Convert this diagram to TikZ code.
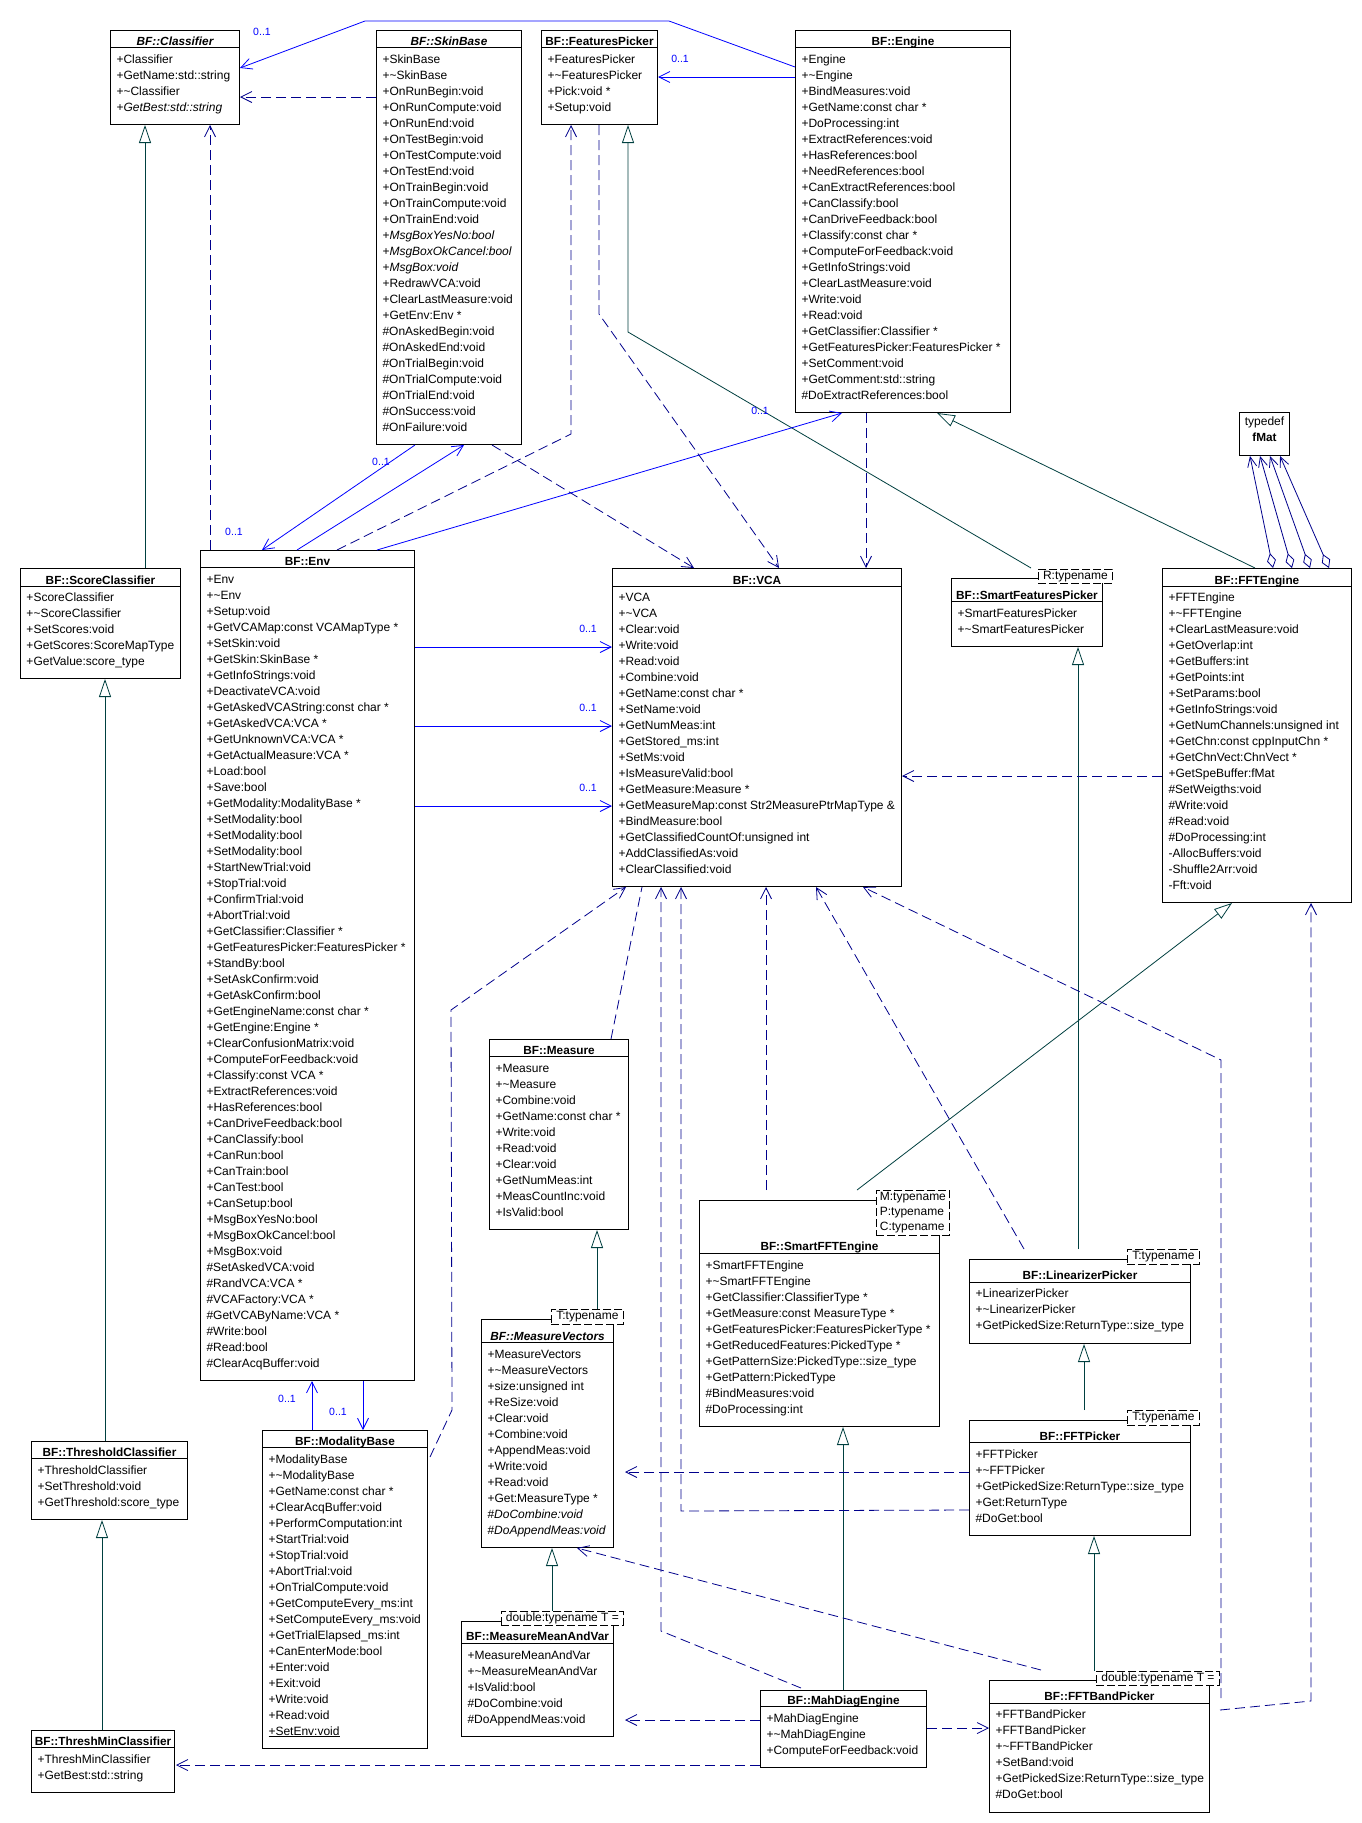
\documentclass[tikz,border=0pt]{standalone}
\usepackage{fontspec}
\setmainfont{Liberation Sans}
\usetikzlibrary{arrows.meta,calc}
\definecolor{assoccol}{RGB}{0,0,255}
\definecolor{depcol}{RGB}{0,0,140}
\definecolor{gencol}{RGB}{0,64,64}
\newcommand\itemfont{\fontsize{12}{16}\selectfont}
\newcommand\titlefont{\fontsize{11.8}{14}\selectfont\bfseries}
\newcommand\multfont{\fontsize{10.5}{12}\selectfont}
\begin{document}
\begin{tikzpicture}[x=1pt, y=-1pt, line width=1pt,
  cbox/.style={draw, fill=white, anchor=north west, inner sep=0pt},
  ctitle/.style={anchor=base, inner sep=0pt, font=\titlefont},
  ititle/.style={anchor=base, inner sep=0pt, font=\titlefont\itshape},
  citem/.style={anchor=base west, inner sep=0pt, font=\itemfont},
  tparam/.style={draw, fill=white, line width=0.8pt, dash pattern=on 8pt off 3pt, anchor=north west, inner sep=0pt, align=left, font=\fontsize{12}{15}\selectfont},
  mult/.style={text=assoccol, inner sep=0pt, font=\multfont},
  assoc/.style={draw=assoccol, line width=0.8pt, -{Straight Barb[length=11pt,width=11pt]}},
  dep/.style={draw=depcol, line width=0.8pt, dash pattern=on 10pt off 5pt, -{Straight Barb[length=11pt,width=11pt]}},
  gen/.style={draw=gencol, line width=0.8pt, -{Triangle[open,fill=white,length=18pt,width=12pt]}},
  aggr/.style={draw=depcol, line width=0.8pt, {Diamond[open,fill=white,length=15pt,width=9pt]}-{Straight Barb[length=10pt,width=9pt]}}]

  \fill[white] (0,0) rectangle (1362,1823);
  \useasboundingbox (0,0) rectangle (1362,1823);

  % classes
  \node[cbox, minimum width=129pt, minimum height=94pt] (cls) at (110,30) {};
  \draw ($(cls.north west)+(0,17)$) -- ($(cls.north east)+(0,17)$);
  \node[ititle] at ($(cls.north)+(0,15)$) {BF::Classifier};
  \foreach \m [count=\i from 0] in {+Classifier, +GetName:std::string, +\textasciitilde Classifier, +\textit{GetBest:std::string}}
    \node[citem] at ($(cls.north west)+(6,33+16*\i)$) {\m};

  \node[cbox, minimum width=145pt, minimum height=414pt] (skin) at (376,30) {};
  \draw ($(skin.north west)+(0,17)$) -- ($(skin.north east)+(0,17)$);
  \node[ititle] at ($(skin.north)+(0,15)$) {BF::SkinBase};
  \foreach \m [count=\i from 0] in {+SkinBase, +\textasciitilde SkinBase, +OnRunBegin:void, +OnRunCompute:void, +OnRunEnd:void, +OnTestBegin:void, +OnTestCompute:void, +OnTestEnd:void, +OnTrainBegin:void, +OnTrainCompute:void, +OnTrainEnd:void, +\textit{MsgBoxYesNo:bool}, +\textit{MsgBoxOkCancel:bool}, +\textit{MsgBox:void}, +RedrawVCA:void, +ClearLastMeasure:void, +GetEnv:Env *, \#OnAskedBegin:void, \#OnAskedEnd:void, \#OnTrialBegin:void, \#OnTrialCompute:void, \#OnTrialEnd:void, \#OnSuccess:void, \#OnFailure:void}
    \node[citem] at ($(skin.north west)+(6,33+16*\i)$) {\m};

  \node[cbox, minimum width=116pt, minimum height=94pt] (fpick) at (541,30) {};
  \draw ($(fpick.north west)+(0,17)$) -- ($(fpick.north east)+(0,17)$);
  \node[ctitle] at ($(fpick.north)+(0,15)$) {BF::FeaturesPicker};
  \foreach \m [count=\i from 0] in {+FeaturesPicker, +\textasciitilde FeaturesPicker, +Pick:void *, +Setup:void}
    \node[citem] at ($(fpick.north west)+(6,33+16*\i)$) {\m};

  \node[cbox, minimum width=215pt, minimum height=382pt] (eng) at (795,30) {};
  \draw ($(eng.north west)+(0,17)$) -- ($(eng.north east)+(0,17)$);
  \node[ctitle] at ($(eng.north)+(0,15)$) {BF::Engine};
  \foreach \m [count=\i from 0] in {+Engine, +\textasciitilde Engine, +BindMeasures:void, +GetName:const char *, +DoProcessing:int, +ExtractReferences:void, +HasReferences:bool, +NeedReferences:bool, +CanExtractReferences:bool, +CanClassify:bool, +CanDriveFeedback:bool, +Classify:const char *, +ComputeForFeedback:void, +GetInfoStrings:void, +ClearLastMeasure:void, +Write:void, +Read:void, +GetClassifier:Classifier *, +GetFeaturesPicker:FeaturesPicker *, +SetComment:void, +GetComment:std::string, \#DoExtractReferences:bool}
    \node[citem] at ($(eng.north west)+(6,33+16*\i)$) {\m};

  \node[cbox, minimum width=50pt, minimum height=43pt] (fmat) at (1239,412) {};
  \node[citem, anchor=base] (fmatkw) at ($(fmat.north)+(0,13)$) {typedef};
  \node[ctitle] (fmatname) at ($(fmat.north)+(0,29)$) {fMat};

  \node[cbox, minimum width=160pt, minimum height=110pt] (score) at (20,568) {};
  \draw ($(score.north west)+(0,18)$) -- ($(score.north east)+(0,18)$);
  \node[ctitle] at ($(score.north)+(0,16)$) {BF::ScoreClassifier};
  \foreach \m [count=\i from 0] in {+ScoreClassifier, +\textasciitilde ScoreClassifier, +SetScores:void, +GetScores:ScoreMapType, +GetValue:score\_type}
    \node[citem] at ($(score.north west)+(6,33+16*\i)$) {\m};

  \node[cbox, minimum width=214pt, minimum height=830pt] (env) at (200,550) {};
  \draw ($(env.north west)+(0,17)$) -- ($(env.north east)+(0,17)$);
  \node[ctitle] at ($(env.north)+(0,15)$) {BF::Env};
  \foreach \m [count=\i from 0] in {+Env, +\textasciitilde Env, +Setup:void, +GetVCAMap:const VCAMapType *, +SetSkin:void, +GetSkin:SkinBase *, +GetInfoStrings:void, +DeactivateVCA:void, +GetAskedVCAString:const char *, +GetAskedVCA:VCA *, +GetUnknownVCA:VCA *, +GetActualMeasure:VCA *, +Load:bool, +Save:bool, +GetModality:ModalityBase *, +SetModality:bool, +SetModality:bool, +SetModality:bool, +StartNewTrial:void, +StopTrial:void, +ConfirmTrial:void, +AbortTrial:void, +GetClassifier:Classifier *, +GetFeaturesPicker:FeaturesPicker *, +StandBy:bool, +SetAskConfirm:void, +GetAskConfirm:bool, +GetEngineName:const char *, +GetEngine:Engine *, +ClearConfusionMatrix:void, +ComputeForFeedback:void, +Classify:const VCA *, +ExtractReferences:void, +HasReferences:bool, +CanDriveFeedback:bool, +CanClassify:bool, +CanRun:bool, +CanTrain:bool, +CanTest:bool, +CanSetup:bool, +MsgBoxYesNo:bool, +MsgBoxOkCancel:bool, +MsgBox:void, \#SetAskedVCA:void, \#RandVCA:VCA *, \#VCAFactory:VCA *, \#GetVCAByName:VCA *, \#Write:bool, \#Read:bool, \#ClearAcqBuffer:void}
    \node[citem] at ($(env.north west)+(6,33+16*\i)$) {\m};

  \node[cbox, minimum width=289pt, minimum height=318pt] (vca) at (612,568) {};
  \draw ($(vca.north west)+(0,18)$) -- ($(vca.north east)+(0,18)$);
  \node[ctitle] at ($(vca.north)+(0,16)$) {BF::VCA};
  \foreach \m [count=\i from 0] in {+VCA, +\textasciitilde VCA, +Clear:void, +Write:void, +Read:void, +Combine:void, +GetName:const char *, +SetName:void, +GetNumMeas:int, +GetStored\_ms:int, +SetMs:void, +IsMeasureValid:bool, +GetMeasure:Measure *, +GetMeasureMap:const Str2MeasurePtrMapType \&, +BindMeasure:bool, +GetClassifiedCountOf:unsigned int, +AddClassifiedAs:void, +ClearClassified:void}
    \node[citem] at ($(vca.north west)+(6,33+16*\i)$) {\m};

  \node[cbox, minimum width=151pt, minimum height=68pt] (sfp) at (951,578) {};
  \draw ($(sfp.north west)+(0,23)$) -- ($(sfp.north east)+(0,23)$);
  \node[ctitle] at ($(sfp.north)+(0,21)$) {BF::SmartFeaturesPicker};
  \foreach \m [count=\i from 0] in {+SmartFeaturesPicker, +\textasciitilde SmartFeaturesPicker}
    \node[citem] at ($(sfp.north west)+(6,39+16*\i)$) {\m};
  \node[tparam, minimum width=74pt, minimum height=14pt] (sfpT) at (1038,569) {R:typename};

  \node[cbox, minimum width=189pt, minimum height=334pt] (ffte) at (1162,568) {};
  \draw ($(ffte.north west)+(0,18)$) -- ($(ffte.north east)+(0,18)$);
  \node[ctitle] at ($(ffte.north)+(0,16)$) {BF::FFTEngine};
  \foreach \m [count=\i from 0] in {+FFTEngine, +\textasciitilde FFTEngine, +ClearLastMeasure:void, +GetOverlap:int, +GetBuffers:int, +GetPoints:int, +SetParams:bool, +GetInfoStrings:void, +GetNumChannels:unsigned int, +GetChn:const cppInputChn *, +GetChnVect:ChnVect *, +GetSpeBuffer:fMat, \#SetWeigths:void, \#Write:void, \#Read:void, \#DoProcessing:int, -AllocBuffers:void, -Shuffle2Arr:void, -Fft:void}
    \node[citem] at ($(ffte.north west)+(6,33+16*\i)$) {\m};

  \node[cbox, minimum width=139pt, minimum height=190pt] (meas) at (489,1039) {};
  \draw ($(meas.north west)+(0,17)$) -- ($(meas.north east)+(0,17)$);
  \node[ctitle] at ($(meas.north)+(0,15)$) {BF::Measure};
  \foreach \m [count=\i from 0] in {+Measure, +\textasciitilde Measure, +Combine:void, +GetName:const char *, +Write:void, +Read:void, +Clear:void, +GetNumMeas:int, +MeasCountInc:void, +IsValid:bool}
    \node[citem] at ($(meas.north west)+(6,33+16*\i)$) {\m};

  \node[cbox, minimum width=132pt, minimum height=228pt] (mvec) at (481,1319) {};
  \draw ($(mvec.north west)+(0,23)$) -- ($(mvec.north east)+(0,23)$);
  \node[ititle] at ($(mvec.north)+(0,21)$) {BF::MeasureVectors};
  \foreach \m [count=\i from 0] in {+MeasureVectors, +\textasciitilde MeasureVectors, +size:unsigned int, +ReSize:void, +Clear:void, +Combine:void, +AppendMeas:void, +Write:void, +Read:void, +Get:MeasureType *, \#\textit{DoCombine:void}, \#\textit{DoAppendMeas:void}}
    \node[citem] at ($(mvec.north west)+(6,39+16*\i)$) {\m};
  \node[tparam, minimum width=72pt, minimum height=15pt] (mvecT) at (551,1309) {T:typename};

  \node[cbox, minimum width=240pt, minimum height=226pt] (sfft) at (699,1200) {};
  \draw ($(sfft.north west)+(0,53)$) -- ($(sfft.north east)+(0,53)$);
  \node[ctitle] at ($(sfft.north)+(0,50)$) {BF::SmartFFTEngine};
  \foreach \m [count=\i from 0] in {+SmartFFTEngine, +\textasciitilde SmartFFTEngine, +GetClassifier:ClassifierType *, +GetMeasure:const MeasureType *, +GetFeaturesPicker:FeaturesPickerType *, +GetReducedFeatures:PickedType *, +GetPatternSize:PickedType::size\_type, +GetPattern:PickedType, \#BindMeasures:void, \#DoProcessing:int}
    \node[citem] at ($(sfft.north west)+(6,69+16*\i)$) {\m};
  \node[tparam, minimum width=73pt, minimum height=45pt] (sfftT) at (876,1190) {M:typename\\P:typename\\C:typename};

  \node[cbox, minimum width=221pt, minimum height=84pt] (lin) at (969,1259) {};
  \draw ($(lin.north west)+(0,23)$) -- ($(lin.north east)+(0,23)$);
  \node[ctitle] at ($(lin.north)+(0,20)$) {BF::LinearizerPicker};
  \foreach \m [count=\i from 0] in {+LinearizerPicker, +\textasciitilde LinearizerPicker, +GetPickedSize:ReturnType::size\_type}
    \node[citem] at ($(lin.north west)+(6,38+16*\i)$) {\m};
  \node[tparam, minimum width=72pt, minimum height=15pt] (linT) at (1127,1249) {T:typename};

  \node[cbox, minimum width=221pt, minimum height=115pt] (fftp) at (969,1420) {};
  \draw ($(fftp.north west)+(0,22)$) -- ($(fftp.north east)+(0,22)$);
  \node[ctitle] at ($(fftp.north)+(0,20)$) {BF::FFTPicker};
  \foreach \m [count=\i from 0] in {+FFTPicker, +\textasciitilde FFTPicker, +GetPickedSize:ReturnType::size\_type, +Get:ReturnType, \#DoGet:bool}
    \node[citem] at ($(fftp.north west)+(6,38+16*\i)$) {\m};
  \node[tparam, minimum width=72pt, minimum height=15pt] (fftpT) at (1127,1410) {T:typename};

  \node[cbox, minimum width=156pt, minimum height=78pt] (thr) at (31,1441) {};
  \draw ($(thr.north west)+(0,17)$) -- ($(thr.north east)+(0,17)$);
  \node[ctitle] at ($(thr.north)+(0,15)$) {BF::ThresholdClassifier};
  \foreach \m [count=\i from 0] in {+ThresholdClassifier, +SetThreshold:void, +GetThreshold:score\_type}
    \node[citem] at ($(thr.north west)+(6,33+16*\i)$) {\m};

  \node[cbox, minimum width=143pt, minimum height=62pt] (tmin) at (31,1730) {};
  \draw ($(tmin.north west)+(0,17)$) -- ($(tmin.north east)+(0,17)$);
  \node[ctitle] at ($(tmin.north)+(0,15)$) {BF::ThreshMinClassifier};
  \foreach \m [count=\i from 0] in {+ThreshMinClassifier, +GetBest:std::string}
    \node[citem] at ($(tmin.north west)+(6,33+16*\i)$) {\m};

  \node[cbox, minimum width=165pt, minimum height=318pt] (mod) at (262,1430) {};
  \draw ($(mod.north west)+(0,17)$) -- ($(mod.north east)+(0,17)$);
  \node[ctitle] at ($(mod.north)+(0,15)$) {BF::ModalityBase};
  \foreach \m [count=\i from 0] in {+ModalityBase, +\textasciitilde ModalityBase, +GetName:const char *, +ClearAcqBuffer:void, +PerformComputation:int, +StartTrial:void, +StopTrial:void, +AbortTrial:void, +OnTrialCompute:void, +GetComputeEvery\_ms:int, +SetComputeEvery\_ms:void, +GetTrialElapsed\_ms:int, +CanEnterMode:bool, +Enter:void, +Exit:void, +Write:void, +Read:void, \underline{+SetEnv:void}}
    \node[citem] at ($(mod.north west)+(6,33+16*\i)$) {\m};

  \node[cbox, minimum width=152pt, minimum height=115pt] (mmv) at (461,1621) {};
  \draw ($(mmv.north west)+(0,22)$) -- ($(mmv.north east)+(0,22)$);
  \node[ctitle] at ($(mmv.north)+(0,19)$) {BF::MeasureMeanAndVar};
  \foreach \m [count=\i from 0] in {+MeasureMeanAndVar, +\textasciitilde MeasureMeanAndVar, +IsValid:bool, \#DoCombine:void, \#DoAppendMeas:void}
    \node[citem] at ($(mmv.north west)+(6,38+16*\i)$) {\m};
  \node[tparam, minimum width=122pt, minimum height=14pt] (mmvT) at (501,1611) {double:typename T =};

  \node[cbox, minimum width=166pt, minimum height=77pt] (mah) at (760,1690) {};
  \draw ($(mah.north west)+(0,16)$) -- ($(mah.north east)+(0,16)$);
  \node[ctitle] at ($(mah.north)+(0,14)$) {BF::MahDiagEngine};
  \foreach \m [count=\i from 0] in {+MahDiagEngine, +\textasciitilde MahDiagEngine, +ComputeForFeedback:void}
    \node[citem] at ($(mah.north west)+(6,32+16*\i)$) {\m};

  \node[cbox, minimum width=220pt, minimum height=132pt] (fftb) at (989,1680) {};
  \draw ($(fftb.north west)+(0,23)$) -- ($(fftb.north east)+(0,23)$);
  \node[ctitle] at ($(fftb.north)+(0,20)$) {BF::FFTBandPicker};
  \foreach \m [count=\i from 0] in {+FFTBandPicker, +FFTBandPicker, +\textasciitilde FFTBandPicker, +SetBand:void, +GetPickedSize:ReturnType::size\_type, \#DoGet:bool}
    \node[citem] at ($(fftb.north west)+(6,38+16*\i)$) {\m};
  \node[tparam, minimum width=123pt, minimum height=14pt] (fftbT) at (1096,1671) {double:typename T =};

  % generalizations
  \draw[gen] ($(score.north west)+(125,0)$) -- ($(cls.south west)+(35,0)$);
  \draw[gen] ($(thr.north west)+(74,0)$) -- ($(score.south west)+(85,0)$);
  \draw[gen] ($(tmin.north west)+(71,0)$) -- ($(thr.south west)+(71,0)$);
  \draw[gen] ($(sfp.north west)+(80,-10)$) -- ($(fpick.south west)+(87,207)$) -- ($(fpick.south west)+(87,0)$);
  \draw[gen] ($(ffte.north west)+(93,0)$) -- ($(eng.south west)+(142,0)$);
  \draw[gen] ($(sfft.north west)+(158,-10)$) -- ($(ffte.south west)+(70,0)$);
  \draw[gen] ($(lin.north west)+(109,-10)$) -- ($(sfp.south west)+(127,0)$);
  \draw[gen] ($(fftp.north west)+(115,-10)$) -- ($(lin.south west)+(115,0)$);
  \draw[gen] ($(fftb.north west)+(105,-9)$) -- ($(fftp.south west)+(125,0)$);
  \draw[gen] ($(mvec.north west)+(116,-10)$) -- ($(meas.south west)+(108,0)$);
  \draw[gen] ($(mmv.north west)+(91,-10)$) -- ($(mvec.south west)+(71,0)$);
  \draw[gen] ($(mah.north west)+(83,0)$) -- ($(sfft.south west)+(144,0)$);

  % associations
  \draw[assoc] ($(skin.south west)+(39,0)$) -- ($(env.north west)+(62,0)$);
  \draw[assoc] ($(env.north west)+(97,0)$) -- ($(skin.south west)+(88,0)$);
  \draw[assoc] ($(env.north west)+(177,0)$) -- ($(eng.south west)+(47,0)$);
  \draw[assoc] ($(eng.north west)+(0,47)$) -- ($(fpick.north east)+(0,47)$);
  \draw[assoc] ($(eng.north west)+(0,37)$) -- ($(eng.north west)+(-126,-9)$) -- ($(cls.north east)+(125,-9)$) -- ($(cls.north east)+(0,38)$);
  \foreach \dy/\vy in {97/79, 176/158, 256/238}
    \draw[assoc] ($(env.north east)+(0,\dy)$) -- ($(vca.north west)+(0,\vy)$);
  \draw[assoc] ($(mod.north west)+(50,0)$) -- ($(env.south west)+(112,0)$);
  \draw[assoc] ($(env.south west)+(163,0)$) -- ($(mod.north west)+(101,0)$);

  % dependencies
  \draw[dep] ($(skin.north west)+(0,67)$) -- ($(cls.north east)+(0,67)$);
  \draw[dep] ($(env.north west)+(10,0)$) -- ($(cls.south west)+(100,0)$);
  \draw[dep] ($(env.north west)+(137,0)$) -- ($(fpick.south west)+(30,309)$) -- ($(fpick.south west)+(30,0)$);
  \draw[dep] ($(skin.south west)+(116,0)$) -- ($(vca.north west)+(82,0)$);
  \draw[dep] ($(fpick.south west)+(58,0)$) -- ($(fpick.south west)+(58,189)$) -- ($(vca.north west)+(167,0)$);
  \draw[dep] ($(eng.south west)+(71,0)$) -- ($(vca.north west)+(254,0)$);
  \draw[dep] ($(ffte.north west)+(0,208)$) -- ($(vca.north east)+(0,208)$);
  \draw[dep] ($(mod.north east)+(2,27)$) -- ($(mod.north east)+(24,-20)$) -- ($(vca.south west)+(-161,123)$) -- ($(vca.south west)+(14,0)$);
  \draw[dep, -] ($(meas.north west)+(122,0)$) -- ($(vca.south west)+(30,0)$);
  \draw[dep] ($(mah.north west)+(41,-2)$) -- ($(vca.south west)+(49,744)$) -- ($(vca.south west)+(49,0)$);
  \draw[dep] ($(fftp.north west)+(0,90)$) -- ($(vca.south west)+(69,624)$) -- ($(vca.south west)+(69,0)$);
  \draw[dep] ($(fftp.north west)+(0,52)$) -- ($(mvec.north east)+(11,153)$);
  \draw[dep] ($(sfft.north west)+(67,-10)$) -- ($(vca.south west)+(154,0)$);
  \draw[dep] ($(lin.north west)+(55,-10)$) -- ($(vca.south west)+(204,0)$);
  \draw[dep] ($(fftb.north east)+(11,18)$) -- ($(fftb.north east)+(11,-620)$) -- ($(vca.south east)+(-39,0)$);
  \draw[dep] ($(fftb.north east)+(10,30)$) -- ($(fftb.north east)+(101,21)$) -- ($(ffte.south east)+(-41,0)$);
  \draw[dep] ($(fftb.north west)+(52,-10)$) -- ($(mvec.south east)+(-37,0)$);
  \draw[dep] ($(mah.north east)+(0,38)$) -- ($(fftb.north west)+(0,48)$);
  \draw[dep] ($(mah.north west)+(0,30)$) -- ($(mmv.north east)+(11,99)$);
  \draw[dep] ($(mah.north west)+(0,75)$) -- ($(tmin.north east)+(1,35)$);

  % aggregations
  \foreach \a/\b in {111/11, 130/21, 148/31, 167/41}
    \draw[aggr] ($(ffte.north west)+(\a,0)$) -- ($(fmat.south west)+(\b,0)$);

  % multiplicities
  \node[mult] (m1) at (262,32) {0..1};
  \node[mult] (m2) at (680,59) {0..1};
  \node[mult] (m3) at (381,462) {0..1};
  \node[mult] (m4) at (234,532) {0..1};
  \node[mult] (m5) at (760,411) {0..1};
  \node[mult] (m6) at (588,629) {0..1};
  \node[mult] (m7) at (588,708) {0..1};
  \node[mult] (m8) at (588,788) {0..1};
  \node[mult] (m9) at (287,1399) {0..1};
  \node[mult] (m10) at (338,1412) {0..1};
\end{tikzpicture}
\end{document}
